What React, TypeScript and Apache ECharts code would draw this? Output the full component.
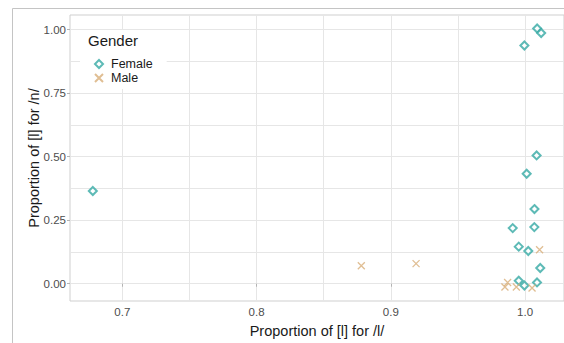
import React, { useEffect, useRef } from "react";
import * as echarts from "echarts";

const femaleX = [0.678, 1.009, 1.012, 0.9995, 1.0086, 1.0012, 1.007, 0.9908, 1.0069, 0.9953, 1.0024, 1.0113, 0.9953, 0.9995, 1.0089];
const femaleY = [0.365, 1.005, 0.987, 0.938, 0.505, 0.433, 0.294, 0.219, 0.223, 0.146, 0.129, 0.062, 0.012, -0.007, 0.005];
const maleX = [0.878, 0.9188, 1.0108, 0.987, 0.985, 0.9935, 1.0052];
const maleY = [0.071, 0.079, 0.134, 0.005, -0.013, -0.013, -0.017];

const xMajor = [0.7, 0.8, 0.9, 1.0];
const xGrid = [0.7, 0.75, 0.8, 0.85, 0.9, 0.95, 1.0];
const yMajor = [0, 0.25, 0.5, 0.75, 1.0];
const yGrid = [0, 0.125, 0.25, 0.375, 0.5, 0.625, 0.75, 0.875, 1.0];

const X_MIN = 0.661;
const X_MAX = 1.029;
const Y_MIN = -0.068;
const Y_MAX = 1.058;

const FONT = "Liberation Sans, Arial, Helvetica, sans-serif";
const TEAL = "#35A9A4";
const TAN = "#D8AE78";
const GRID = "#E6E6E6";

export default function App() {
  const ref = useRef<HTMLDivElement>(null);
  useEffect(() => {
    if (!ref.current) return;
    const chart = echarts.init(ref.current, null, { renderer: "svg" });
    const zip = (xs: number[], ys: number[]) => xs.map((x, i) => [x, ys[i]]);
    chart.setOption({
      animation: false,
      backgroundColor: "#ffffff",
      textStyle: { fontFamily: FONT },
      grid: {
        left: 70,
        right: -4,
        top: 15,
        bottom: 42,
        show: true,
        borderColor: "#CFCFCF",
        borderWidth: 1,
        backgroundColor: "transparent",
      },
      title: {
        text: "Gender",
        left: 88,
        top: 33,
        padding: 0,
        z: 10,
        textStyle: { fontFamily: FONT, fontSize: 15, fontWeight: "normal", color: "#1A1A1A" },
      },
      legend: {
        orient: "vertical",
        left: 80,
        top: 30,
        padding: [27, 14, 4, 14],
        backgroundColor: "#ffffff",
        itemWidth: 8,
        itemHeight: 8,
        itemGap: 0,
        z: 5,
        textStyle: { fontFamily: FONT, fontSize: 12.5, color: "#1A1A1A", lineHeight: 14, padding: [0, 0, 0, 3] },
        data: ["Female", "Male"],
      },
      graphic: [
        {
          type: "rect",
          silent: true,
          z: 100,
          shape: { x: 12.5, y: 8.5, width: 600, height: 400 },
          style: { fill: "none", stroke: "#C4C4C4", lineWidth: 1 },
        },
      ],
      xAxis: [
        {
          type: "value",
          min: X_MIN,
          max: X_MAX,
          position: "bottom",
          axisLine: { show: false },
          axisTick: { show: false, customValues: xGrid },
          axisLabel: { show: false },
          splitLine: { show: true, lineStyle: { color: GRID, width: 1 } },
          name: "Proportion of [l] for /l/",
          nameLocation: "middle",
          nameGap: 22,
          nameTextStyle: { fontFamily: FONT, fontSize: 14.5, color: "#1A1A1A" },
        },
        {
          type: "value",
          min: X_MIN,
          max: X_MAX,
          position: "bottom",
          axisLine: { show: false },
          axisTick: { show: true, length: 3, customValues: xMajor, lineStyle: { color: "#B3B3B3" } },
          axisLabel: {
            show: true,
            customValues: xMajor,
            margin: 5,
            color: "#4D4D4D",
            fontSize: 11.5,
            fontFamily: FONT,
            formatter: (v: number) => v.toFixed(1),
          },
          splitLine: { show: false },
        },
      ],
      yAxis: [
        {
          type: "value",
          min: Y_MIN,
          max: Y_MAX,
          position: "left",
          axisLine: { show: false },
          axisTick: { show: false, customValues: yGrid },
          axisLabel: { show: false },
          splitLine: { show: true, lineStyle: { color: GRID, width: 1 } },
          name: "Proportion of [l] for /n/",
          nameLocation: "middle",
          nameGap: 29,
          nameRotate: 90,
          nameTextStyle: { fontFamily: FONT, fontSize: 14.5, color: "#1A1A1A" },
        },
        {
          type: "value",
          min: Y_MIN,
          max: Y_MAX,
          position: "left",
          axisLine: { show: false },
          axisTick: { show: true, length: 3, customValues: yMajor, lineStyle: { color: "#B3B3B3" } },
          axisLabel: {
            show: true,
            customValues: yMajor,
            margin: 4,
            color: "#4D4D4D",
            fontSize: 11.5,
            fontFamily: FONT,
            formatter: (v: number) => v.toFixed(2),
          },
          splitLine: { show: false },
        },
      ],
      series: [
        {
          name: "Female",
          type: "scatter",
          xAxisIndex: 0,
          yAxisIndex: 0,
          symbol: "emptyDiamond",
          symbolSize: 8,
          z: 3,
          itemStyle: { color: TEAL, borderColor: TEAL, borderWidth: 1.5 },
          data: zip(femaleX, femaleY),
        },
        {
          name: "Male",
          type: "scatter",
          xAxisIndex: 0,
          yAxisIndex: 0,
          symbol: "path://M0,0L10,10M0,10L10,0",
          symbolSize: 7,
          z: 3,
          itemStyle: { color: "rgba(0,0,0,0)", borderColor: TAN, borderWidth: 1.3 },
          data: zip(maleX, maleY),
        },
      ],
    });
    return () => chart.dispose();
  }, []);
  return (
    <div
      ref={ref}
      style={{ position: "fixed", left: 0, top: 0, width: 564, height: 343 }}
    />
  );
}
